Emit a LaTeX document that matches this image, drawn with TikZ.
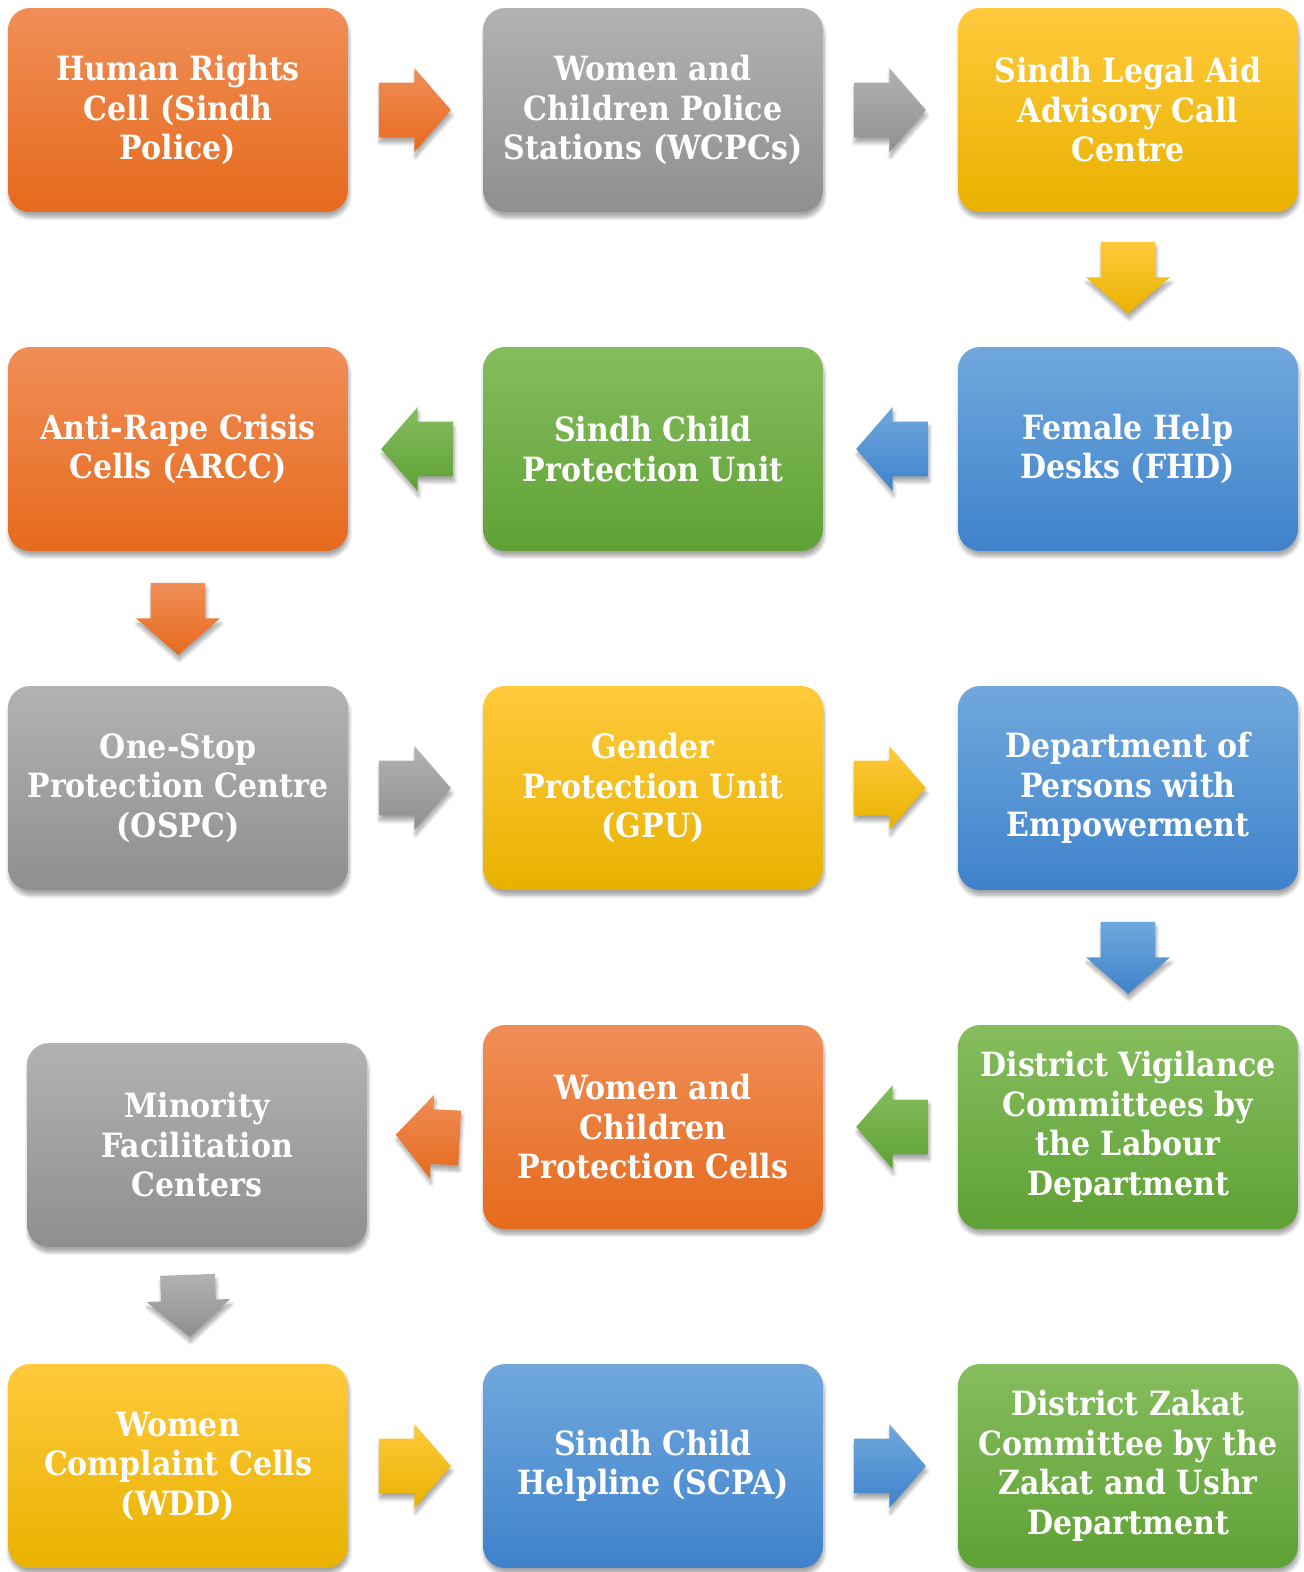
\documentclass[tikz,border=0pt]{standalone}
\usepackage{fontspec}
\setmainfont{DejaVu Serif Condensed}
\usetikzlibrary{shapes.arrows,shadows.blur,calc}
\definecolor{orangetop}{HTML}{F08E58}
\definecolor{orangebot}{HTML}{E66A1C}
\definecolor{graytop}{HTML}{B2B2B2}
\definecolor{graybot}{HTML}{8F8F8F}
\definecolor{yellowtop}{HTML}{FFC93C}
\definecolor{yellowbot}{HTML}{E9B200}
\definecolor{bluetop}{HTML}{70A8DD}
\definecolor{bluebot}{HTML}{3F82CB}
\definecolor{greentop}{HTML}{86BD5E}
\definecolor{greenbot}{HTML}{5FA135}
\tikzset{
	softshadow/.style = {blur shadow={shadow xshift=0.6pt, shadow yshift=-3pt, shadow opacity=35, shadow blur steps=8}},
	unit/.style = {rounded corners=0.44cm, minimum width=6.8cm, minimum height=4.08cm, align=center, inner sep=0pt, text=white, font=\bfseries\fontsize{19}{22.5}\selectfont, softshadow},
	unitbox/.style = {unit, top color=#1top, bottom color=#1bot},
	flowarrow/.style = {single arrow, draw=none, anchor=tail, inner xsep=0pt, inner ysep=0.54cm, minimum height=1.44cm, single arrow head extend=0.29cm, single arrow tip angle=98, softshadow, top color=#1top, bottom color=#1bot},
	goright/.style = {flowarrow=#1},
	goleft/.style = {flowarrow=#1, rotate=180},
	godown/.style = {flowarrow=#1, rotate=-90},
}

\begin{document}
\begin{tikzpicture}[x=0.02cm, y=-0.02cm]
	\useasboundingbox (0,0) rectangle (1304,1572);

	% row 1
	\node[unitbox=orange] (hrc) at (178,110) {Human Rights\\Cell (Sindh\\Police)};
	\node[unitbox=gray] (wcpc) at (653,110) {Women and\\Children Police\\Stations (WCPCs)};
	\node[unitbox=yellow] (slac) at (1128,110) {Sindh Legal Aid\\Advisory Call\\Centre};
	% row 2
	\node[unitbox=blue] (fhd) at (1128,449) {Female Help\\Desks (FHD)};
	\node[unitbox=green] (scpu) at (653,449) {Sindh Child\\Protection Unit};
	\node[unitbox=orange] (arcc) at (178,449) {Anti-Rape Crisis\\Cells (ARCC)};
	% row 3
	\node[unitbox=gray] (ospc) at (178,788) {One-Stop\\Protection Centre\\(OSPC)};
	\node[unitbox=yellow] (gpu) at (653,788) {Gender\\Protection Unit\\(GPU)};
	\node[unitbox=blue] (dpe) at (1128,788) {Department of\\Persons with\\Empowerment};
	% row 4
	\node[unitbox=green] (dvc) at (1128,1127) {District Vigilance\\Committees by\\the Labour\\Department};
	\node[unitbox=orange] (wcpcell) at (653,1127) {Women and\\Children\\Protection Cells};
	\node[unitbox=gray] (mfc) at (197,1145) {Minority\\Facilitation\\Centers};
	% row 5
	\node[unitbox=yellow] (wcc) at (178,1466) {Women\\Complaint Cells\\(WDD)};
	\node[unitbox=blue] (sch) at (653,1466) {Sindh Child\\Helpline (SCPA)};
	\node[unitbox=green] (dzc) at (1128,1466) {District Zakat\\Committee by the\\Zakat and Ushr\\Department};

	% block arrows between the units (placed by their tails)
	\node[goright=orange] at ($(hrc.east)!0.5!(wcpc.west)+(-37,0)$) {};
	\node[goright=gray] at ($(wcpc.east)!0.5!(slac.west)+(-37,0)$) {};
	\node[godown=yellow] at ($(slac.south)!0.5!(fhd.north)+(0,-38)$) {};
	\node[goleft=blue] at ($(fhd.west)!0.5!(scpu.east)+(38,0)$) {};
	\node[goleft=green] at ($(scpu.west)!0.5!(arcc.east)+(38,0)$) {};
	\node[godown=orange] at ($(arcc.south)!0.5!(ospc.north)+(0,-36)$) {};
	\node[goright=gray] at ($(ospc.east)!0.5!(gpu.west)+(-37,0)$) {};
	\node[goright=yellow] at ($(gpu.east)!0.5!(dpe.west)+(-37,0)$) {};
	\node[godown=blue] at ($(dpe.south)!0.5!(dvc.north)+(0,-36)$) {};
	\node[goleft=green] at ($(dvc.west)!0.5!(wcpcell.east)+(38,0)$) {};
	\node[goleft=orange, rotate=-3, minimum height=1.28cm] at ($(wcpcell.west)!0.5!(mfc.east)+(35,2)$) {};
	\node[godown=gray, rotate=2, minimum height=1.24cm] at ($(mfc.south)!0.5!(wcc.north)+(0,-31)$) {};
	\node[goright=yellow] at ($(wcc.east)!0.5!(sch.west)+(-37,0)$) {};
	\node[goright=blue] at ($(sch.east)!0.5!(dzc.west)+(-37,0)$) {};
\end{tikzpicture}
\end{document}
